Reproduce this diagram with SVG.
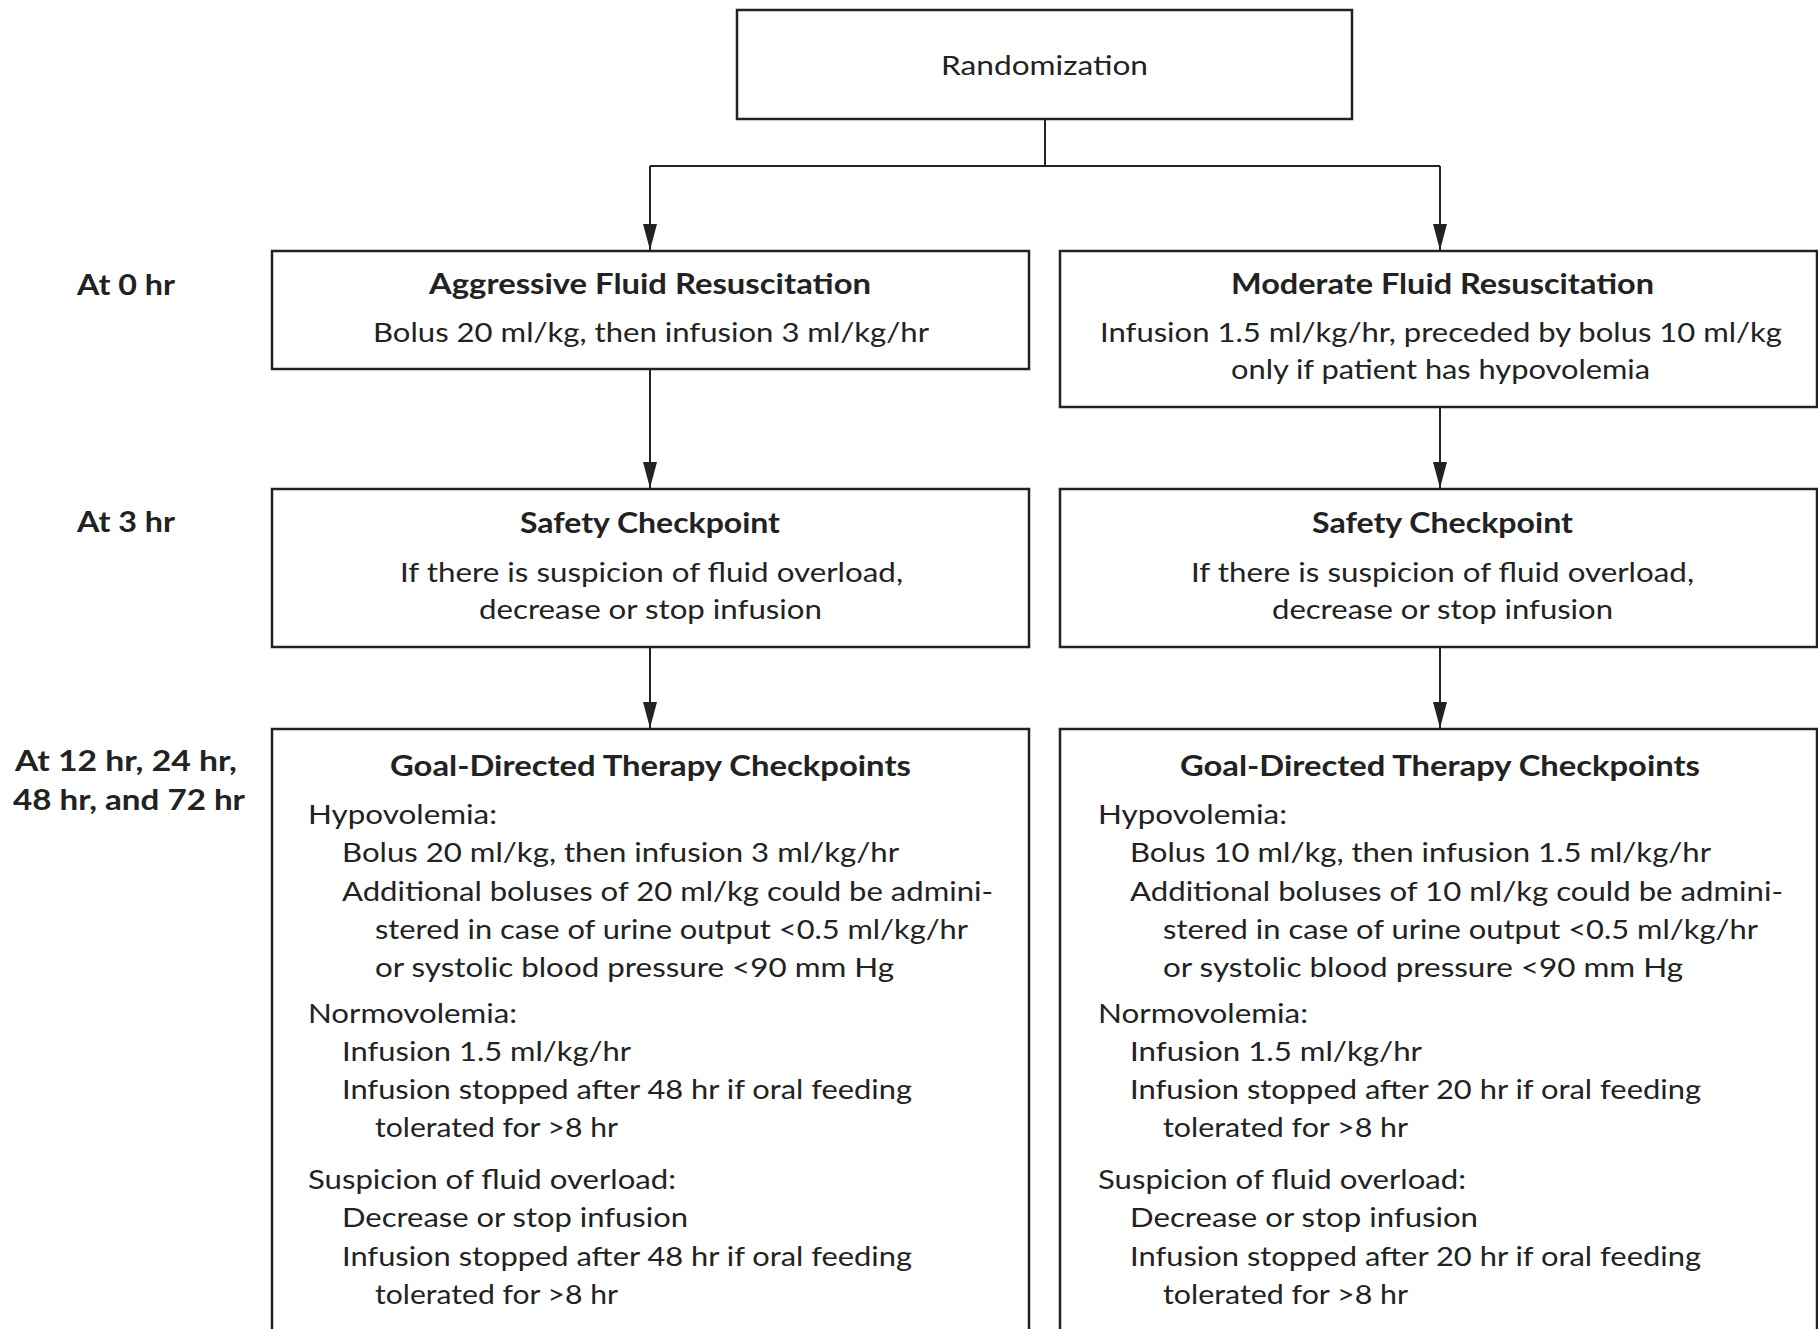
<svg xmlns="http://www.w3.org/2000/svg" width="1818" height="1329" viewBox="0 0 1818 1329">
<style>
  .box { fill: #fff; stroke: #222; stroke-width: 2.5; }
  .con { fill: none; stroke: #222; stroke-width: 2; }
  text { font-family: Lato, "Open Sans", "Liberation Sans", sans-serif; fill: #222; }
  .t { font-size: 27.5px; }
  .b { font-size: 28.5px; font-weight: bold; }
</style>
<defs>
  <marker id="arr" viewBox="0 0 26 14" refX="26" refY="7" markerWidth="26" markerHeight="14" markerUnits="userSpaceOnUse" orient="auto">
    <path d="M0,0 L26,7 L0,14 Z" fill="#222"/>
  </marker>
</defs>
<rect width="1818" height="1329" fill="#fff"/>

<g id="connectors">
  <path class="con" d="M1045,119 V166"/>
  <path class="con" d="M650,166 H1440"/>
  <path class="con" d="M650,166 V250" marker-end="url(#arr)"/>
  <path class="con" d="M1440,166 V250" marker-end="url(#arr)"/>
  <path class="con" d="M650,369 V488" marker-end="url(#arr)"/>
  <path class="con" d="M1440,407 V488" marker-end="url(#arr)"/>
  <path class="con" d="M650,647 V728" marker-end="url(#arr)"/>
  <path class="con" d="M1440,647 V728" marker-end="url(#arr)"/>
</g>

<g id="labels">
  <text class="b" x="77" y="295" textLength="98" lengthAdjust="spacingAndGlyphs">At 0 hr</text>
  <text class="b" x="77" y="532" textLength="98" lengthAdjust="spacingAndGlyphs">At 3 hr</text>
  <text class="b" x="15" y="771" textLength="222" lengthAdjust="spacingAndGlyphs">At 12 hr, 24 hr,</text>
  <text class="b" x="13" y="810" textLength="232" lengthAdjust="spacingAndGlyphs">48 hr, and 72 hr</text>
</g>

<g id="randomization">
  <rect class="box" x="737" y="10" width="615" height="109"/>
  <text class="t" x="941" y="75" textLength="207" lengthAdjust="spacingAndGlyphs">Randomization</text>
</g>

<g id="aggressive">
  <rect class="box" x="272" y="251" width="757" height="118"/>
  <text class="b" x="429" y="294" textLength="442" lengthAdjust="spacingAndGlyphs">Aggressive Fluid Resuscitation</text>
  <text class="t" x="373" y="342" textLength="556" lengthAdjust="spacingAndGlyphs">Bolus 20 ml/kg, then infusion 3 ml/kg/hr</text>
</g>

<g id="moderate">
  <rect class="box" x="1060" y="251" width="757" height="156"/>
  <text class="b" x="1231" y="294" textLength="423" lengthAdjust="spacingAndGlyphs">Moderate Fluid Resuscitation</text>
  <text class="t" x="1100" y="342" textLength="682" lengthAdjust="spacingAndGlyphs">Infusion 1.5 ml/kg/hr, preceded by bolus 10 ml/kg</text>
  <text class="t" x="1231" y="379" textLength="419" lengthAdjust="spacingAndGlyphs">only if patient has hypovolemia</text>
</g>

<g id="safety-left">
  <rect class="box" x="272" y="489" width="757" height="158"/>
  <text class="b" x="520" y="533" textLength="260" lengthAdjust="spacingAndGlyphs">Safety Checkpoint</text>
  <text class="t" x="400" y="582" textLength="503" lengthAdjust="spacingAndGlyphs">If there is suspicion of fluid overload,</text>
  <text class="t" x="479" y="619" textLength="343" lengthAdjust="spacingAndGlyphs">decrease or stop infusion</text>
</g>

<g id="safety-right">
  <rect class="box" x="1060" y="489" width="757" height="158"/>
  <text class="b" x="1312" y="533" textLength="261" lengthAdjust="spacingAndGlyphs">Safety Checkpoint</text>
  <text class="t" x="1191" y="582" textLength="503" lengthAdjust="spacingAndGlyphs">If there is suspicion of fluid overload,</text>
  <text class="t" x="1272" y="619" textLength="341" lengthAdjust="spacingAndGlyphs">decrease or stop infusion</text>
</g>

<g id="goal-left">
  <rect class="box" x="272" y="729" width="757" height="700"/>
  <text class="b" x="390" y="776" textLength="521" lengthAdjust="spacingAndGlyphs">Goal-Directed Therapy Checkpoints</text>
  <text class="t" x="308" y="824" textLength="189" lengthAdjust="spacingAndGlyphs">Hypovolemia:</text>
  <text class="t" x="342" y="862" textLength="557" lengthAdjust="spacingAndGlyphs">Bolus 20 ml/kg, then infusion 3 ml/kg/hr</text>
  <text class="t" x="342" y="901" textLength="651" lengthAdjust="spacingAndGlyphs">Additional boluses of 20 ml/kg could be admini-</text>
  <text class="t" x="375" y="939" textLength="593" lengthAdjust="spacingAndGlyphs">stered in case of urine output &lt;0.5 ml/kg/hr</text>
  <text class="t" x="375" y="977" textLength="519" lengthAdjust="spacingAndGlyphs">or systolic blood pressure &lt;90 mm Hg</text>
  <text class="t" x="308" y="1023" textLength="209" lengthAdjust="spacingAndGlyphs">Normovolemia:</text>
  <text class="t" x="342" y="1061" textLength="289" lengthAdjust="spacingAndGlyphs">Infusion 1.5 ml/kg/hr</text>
  <text class="t" x="342" y="1099" textLength="570" lengthAdjust="spacingAndGlyphs">Infusion stopped after 48 hr if oral feeding</text>
  <text class="t" x="375" y="1137" textLength="243" lengthAdjust="spacingAndGlyphs">tolerated for &gt;8 hr</text>
  <text class="t" x="308" y="1189" textLength="368" lengthAdjust="spacingAndGlyphs">Suspicion of fluid overload:</text>
  <text class="t" x="342" y="1227" textLength="346" lengthAdjust="spacingAndGlyphs">Decrease or stop infusion</text>
  <text class="t" x="342" y="1266" textLength="570" lengthAdjust="spacingAndGlyphs">Infusion stopped after 48 hr if oral feeding</text>
  <text class="t" x="375" y="1304" textLength="243" lengthAdjust="spacingAndGlyphs">tolerated for &gt;8 hr</text>
</g>

<g id="goal-right">
  <rect class="box" x="1060" y="729" width="757" height="700"/>
  <text class="b" x="1180" y="776" textLength="520" lengthAdjust="spacingAndGlyphs">Goal-Directed Therapy Checkpoints</text>
  <text class="t" x="1098" y="824" textLength="189" lengthAdjust="spacingAndGlyphs">Hypovolemia:</text>
  <text class="t" x="1130" y="862" textLength="581" lengthAdjust="spacingAndGlyphs">Bolus 10 ml/kg, then infusion 1.5 ml/kg/hr</text>
  <text class="t" x="1130" y="901" textLength="653" lengthAdjust="spacingAndGlyphs">Additional boluses of 10 ml/kg could be admini-</text>
  <text class="t" x="1163" y="939" textLength="595" lengthAdjust="spacingAndGlyphs">stered in case of urine output &lt;0.5 ml/kg/hr</text>
  <text class="t" x="1163" y="977" textLength="520" lengthAdjust="spacingAndGlyphs">or systolic blood pressure &lt;90 mm Hg</text>
  <text class="t" x="1098" y="1023" textLength="210" lengthAdjust="spacingAndGlyphs">Normovolemia:</text>
  <text class="t" x="1130" y="1061" textLength="292" lengthAdjust="spacingAndGlyphs">Infusion 1.5 ml/kg/hr</text>
  <text class="t" x="1130" y="1099" textLength="571" lengthAdjust="spacingAndGlyphs">Infusion stopped after 20 hr if oral feeding</text>
  <text class="t" x="1163" y="1137" textLength="245" lengthAdjust="spacingAndGlyphs">tolerated for &gt;8 hr</text>
  <text class="t" x="1098" y="1189" textLength="368" lengthAdjust="spacingAndGlyphs">Suspicion of fluid overload:</text>
  <text class="t" x="1130" y="1227" textLength="348" lengthAdjust="spacingAndGlyphs">Decrease or stop infusion</text>
  <text class="t" x="1130" y="1266" textLength="571" lengthAdjust="spacingAndGlyphs">Infusion stopped after 20 hr if oral feeding</text>
  <text class="t" x="1163" y="1304" textLength="245" lengthAdjust="spacingAndGlyphs">tolerated for &gt;8 hr</text>
</g>
</svg>
